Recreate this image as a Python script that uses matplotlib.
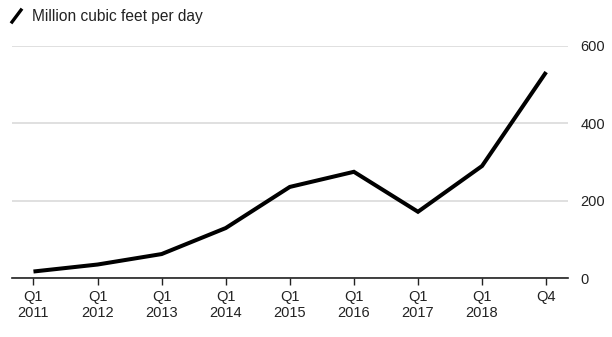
import matplotlib
matplotlib.use("Agg")
import matplotlib.pyplot as plt
from matplotlib.lines import Line2D

plt.rcParams['font.family'] = ['Liberation Sans', 'DejaVu Sans']

# quarterly output, million cubic feet per day
periods = ["Q1\n2011", "Q1\n2012", "Q1\n2013", "Q1\n2014", "Q1\n2015",
           "Q1\n2016", "Q1\n2017", "Q1\n2018", "Q4"]
output = [18, 36, 63, 130, 236, 275, 172, 290, 532]
yticks = [0, 200, 400, 600]

fig = plt.figure(figsize=(6.12, 3.37), dpi=100)
ax = fig.add_axes([0.0196, 0.1736, 0.9084, 0.6908])

x = list(range(len(output)))
ax.plot(x, output, color="black", lw=2.9, solid_joinstyle="miter",
        solid_capstyle="butt", clip_on=False, zorder=3)

ax.set_xlim(-0.335, 8.34)
ax.set_ylim(0, 600)
ax.set_xticks(x)
ax.set_xticklabels(periods, fontsize=10.5, color="#222222", linespacing=1.25)
ax.set_yticks(yticks)
ax.set_yticklabels([str(v) for v in yticks], fontsize=10.5, color="#222222")

ax.yaxis.tick_right()
ax.tick_params(axis="y", length=0, pad=9)
ax.tick_params(axis="x", length=5, width=1, color="#222222", pad=3)
ax.grid(axis="y", color="#dddddd", lw=1.3)
ax.set_axisbelow(True)

for s in ["top", "left", "right"]:
    ax.spines[s].set_visible(False)
ax.spines["bottom"].set_color("#222222")
ax.spines["bottom"].set_linewidth(1.2)
ax.spines["bottom"].set_zorder(2)

# legend key drawn as header
fig.add_artist(Line2D([12 / 612, 21 / 612], [1 - 22 / 337, 1 - 10 / 337],
                      color="black", lw=2.4, transform=fig.transFigure))
fig.text(32 / 612, 1 - 16 / 337, "Million cubic feet per day", fontsize=11.2,
         color="#222222", va="center", ha="left")

fig.savefig("out.png", dpi=100)
